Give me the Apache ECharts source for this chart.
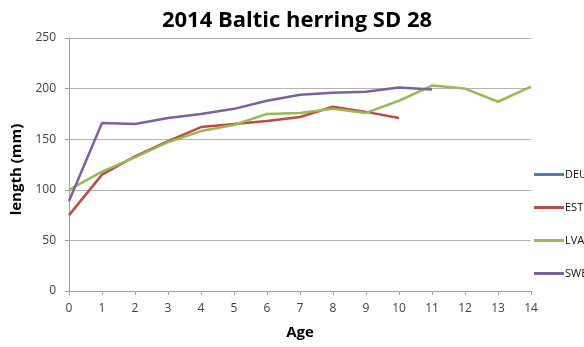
<!DOCTYPE html>
<html>
<head>
<meta charset="utf-8">
<script src="https://cdn.jsdelivr.net/npm/echarts@6/dist/echarts.min.js"></script>
<style>
  html, body { margin: 0; padding: 0; background: #fff; }
  #chart { width: 584px; height: 347px; }
</style>
</head>
<body>
<div id="chart"></div>
<script>
// Mean length at age (mm), Baltic herring, subdivision 28, 2014
const ages = [0, 1, 2, 3, 4, 5, 6, 7, 8, 9, 10, 11, 12, 13, 14];
const deuLength = [];
const estLength = [75, 115, 133, 148, 162, 165, 168, 172, 182, 177, 171];
const lvaLength = [100, 118, 132, 147, 158, 164, 175, 176, 180, 176, 188, 203, 200, 187, 202];
const sweLength = [89, 166, 165, 171, 175, 180, 188, 194, 196, 197, 201, 199];
const yTicks = [0, 50, 100, 150, 200, 250];

const font = '"Open Sans", "Liberation Sans", sans-serif';

function pairs(values) {
  return values.map((v, i) => [ages[i], v]);
}

const seriesDefs = [
  { name: 'DEU', data: deuLength, color: '#4a7ebb' },
  { name: 'EST', data: estLength, color: '#be4b48' },
  { name: 'LVA', data: lvaLength, color: '#98b954' },
  { name: 'SWE', data: sweLength, color: '#7d60a0' }
];

const chart = echarts.init(document.getElementById('chart'), null, { renderer: 'canvas' });
chart.setOption({
  animation: false,
  backgroundColor: '#ffffff',
  title: {
    text: '2014 Baltic herring SD 28',
    left: 292,
    textAlign: 'center',
    top: 5,
    textStyle: { fontFamily: font, fontSize: 22, fontWeight: 'bold', color: '#000' }
  },
  legend: {
    orient: 'vertical',
    left: 529,
    top: 164,
    itemWidth: 30,
    itemHeight: 3,
    itemGap: 22,
    icon: 'rect',
    textStyle: { fontFamily: font, fontSize: 11, color: '#111', padding: [0, 0, 0, -4] },
    data: seriesDefs.map(s => s.name)
  },
  grid: { left: 69, right: 53, top: 38, bottom: 56, containLabel: false },
  xAxis: {
    type: 'value',
    min: 0,
    max: ages[ages.length - 1],
    interval: 1,
    name: 'Age',
    nameLocation: 'middle',
    nameGap: 34,
    nameTextStyle: { fontFamily: font, fontSize: 15, fontWeight: 'bold', color: '#000' },
    axisLine: { lineStyle: { color: '#a0a0a0' } },
    axisTick: { show: true, length: 4, lineStyle: { color: '#a0a0a0' } },
    axisLabel: { fontFamily: font, fontSize: 12, color: '#404040', margin: 12 },
    splitLine: { show: false }
  },
  yAxis: {
    type: 'value',
    min: yTicks[0],
    max: yTicks[yTicks.length - 1],
    interval: yTicks[1] - yTicks[0],
    name: 'length (mm)',
    nameLocation: 'middle',
    nameGap: 42,
    nameTextStyle: { fontFamily: font, fontSize: 15, fontWeight: 'bold', color: '#000', padding: [0, 10, 0, 0] },
    axisLine: { show: true, lineStyle: { color: '#a0a0a0' } },
    axisTick: { show: true, length: 4, lineStyle: { color: '#a0a0a0' } },
    axisLabel: { fontFamily: font, fontSize: 12, color: '#404040', margin: 13 },
    splitLine: { lineStyle: { color: '#b4b4b4', width: 1 } }
  },
  series: seriesDefs.map(s => ({
    name: s.name,
    type: 'line',
    data: pairs(s.data),
    symbol: 'none',
    color: s.color,
    lineStyle: { width: 2.5, color: s.color }
  }))
});
</script>
</body>
</html>
